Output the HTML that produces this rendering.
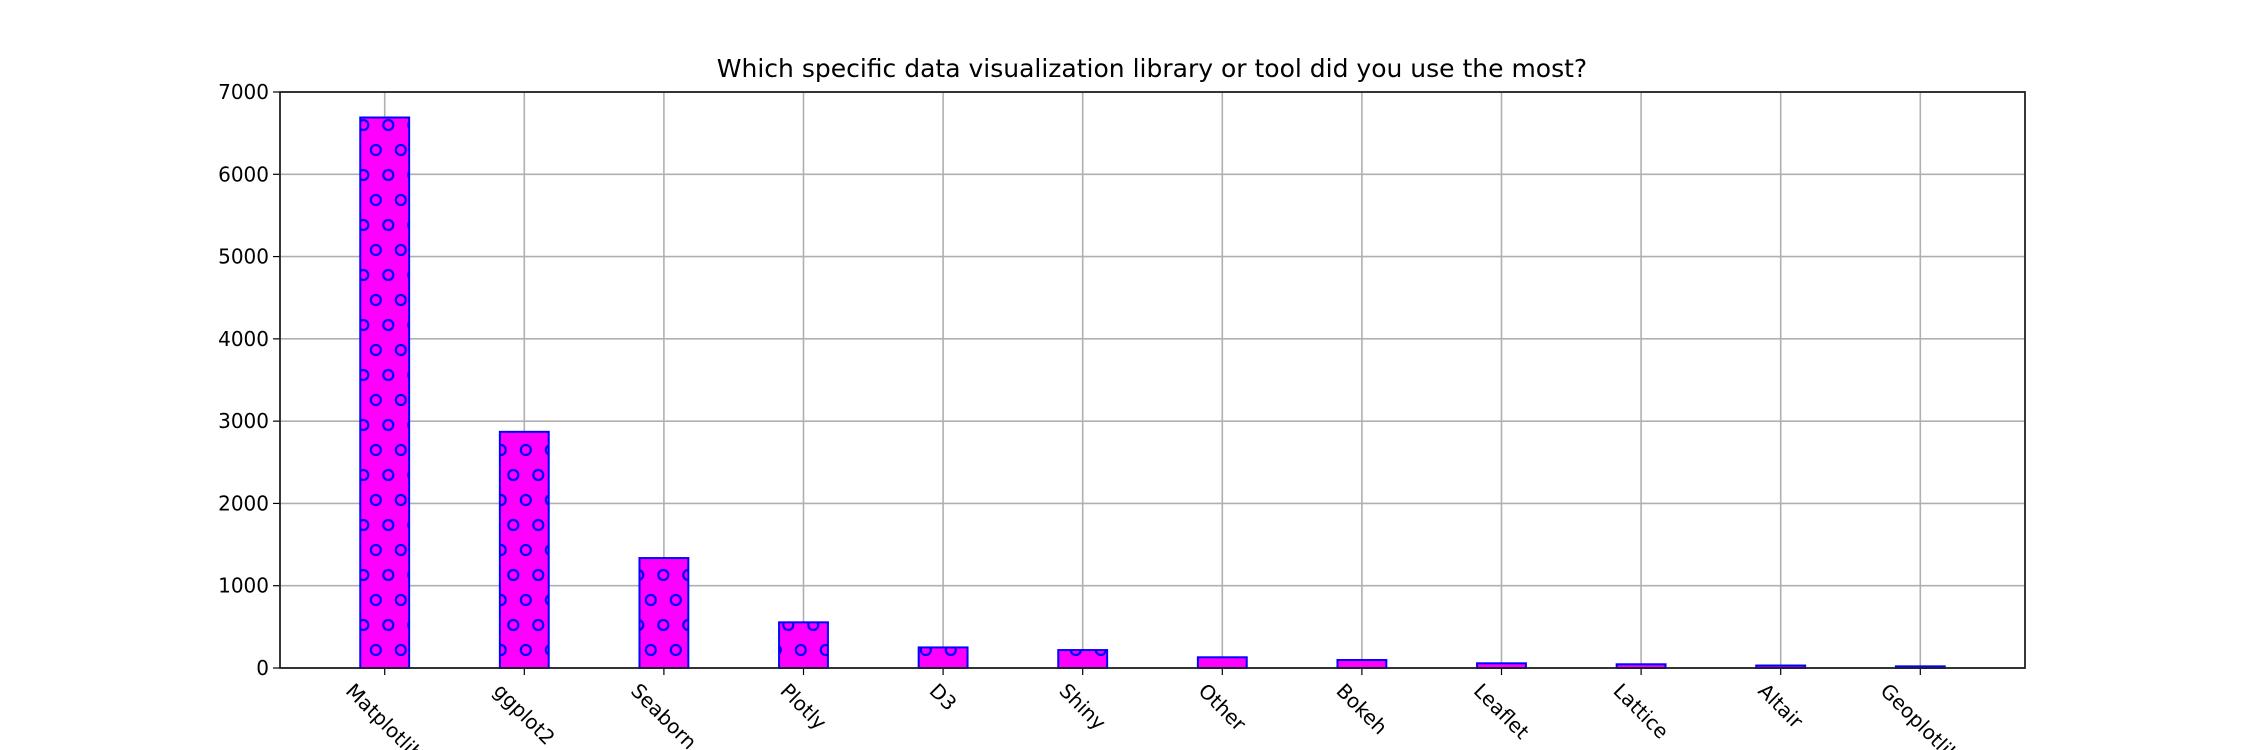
<!DOCTYPE html>
<html><head><meta charset="utf-8"><style>body{margin:0;background:#fff}svg{display:block}text{font-family:"DejaVu Sans","Liberation Sans",sans-serif;fill:#000}</style></head>
<body>
<svg id="chart" width="2250" height="750" viewBox="0 0 2250 750">
<defs>
<pattern id="hatch" patternUnits="userSpaceOnUse" x="0" y="0" width="25" height="50">
<rect width="25" height="50" fill="#ff00ff"/>
<g fill="none" stroke="#0000ff" stroke-width="2.2">
<circle cx="13.3" cy="25" r="5"/>
<circle cx="0.8" cy="0" r="5"/><circle cx="25.8" cy="0" r="5"/>
<circle cx="0.8" cy="50" r="5"/><circle cx="25.8" cy="50" r="5"/>
</g>
</pattern>
</defs>
<text x="1152" y="77" font-size="25" text-anchor="middle">Which specific data visualization library or tool did you use the most?</text>
<g id="grid"></g><g id="bars"></g><g id="axes"></g>
</svg>
<script>
const categories = ["Matplotlib","ggplot2","Seaborn","Plotly","D3","Shiny","Other","Bokeh","Leaflet","Lattice","Altair","Geoplotlib"];
const values = [6690, 2870, 1336, 555, 250, 218, 130, 97, 57, 45, 30, 20];
const yTicks = [0, 1000, 2000, 3000, 4000, 5000, 6000, 7000];
const NS = "http://www.w3.org/2000/svg";
const L = 280, R = 2025, T = 92, B = 668;
const x = i => L + (i + 0.75) / 12.5 * (R - L);
const y = v => B - v / 7000 * (B - T);
const bw = 0.35 / 12.5 * (R - L);
function mk(tag, attrs, parent) { const e = document.createElementNS(NS, tag); for (const k in attrs) e.setAttribute(k, attrs[k]); parent.appendChild(e); return e; }
const grid = document.getElementById('grid'), bars = document.getElementById('bars'), axes = document.getElementById('axes');
categories.forEach((c, i) => {
  const g = mk('line', {x1: x(i), x2: x(i), y1: T, y2: B, stroke: '#b0b0b0', 'stroke-width': 1.6}, grid);
  
  
});
yTicks.forEach(t => {
  const g = mk('line', {x1: L, x2: R, y1: y(t), y2: y(t), stroke: '#b0b0b0', 'stroke-width': 1.6}, grid);
  
  
  const tk = mk('line', {x1: L - 7, x2: L, y1: y(t), y2: y(t), stroke: '#000', 'stroke-width': 1.2}, axes);
  
  
  const tx = mk('text', {x: L - 11, y: y(t) + 7, 'font-size': 20, 'text-anchor': 'end'}, axes);
  tx.textContent = t;
  
  
});
categories.forEach((c, i) => {
  const r = mk('rect', {x: x(i) - bw / 2, y: y(values[i]), width: bw, height: B - y(values[i]), fill: 'url(#hatch)', stroke: '#0000ff', 'stroke-width': 2}, bars);
  
  
  const tk = mk('line', {x1: x(i), x2: x(i), y1: B, y2: B + 7, stroke: '#000', 'stroke-width': 1.2}, axes);
  
  
  const tx = mk('text', {x: 0, y: 7, 'font-size': 20, 'text-anchor': 'middle'}, axes);
  tx.textContent = c;
  
  
  const w = tx.getComputedTextLength();
  const yc = B + 12 + (w + 20) * 0.7071 / 2;
  tx.setAttribute('transform', 'translate(' + x(i) + ',' + yc + ') rotate(45)');
});
const f = mk('rect', {x: L, y: T, width: R - L, height: B - T, fill: 'none', stroke: '#222', 'stroke-width': 1.8}, axes);


</script>
</body></html>
